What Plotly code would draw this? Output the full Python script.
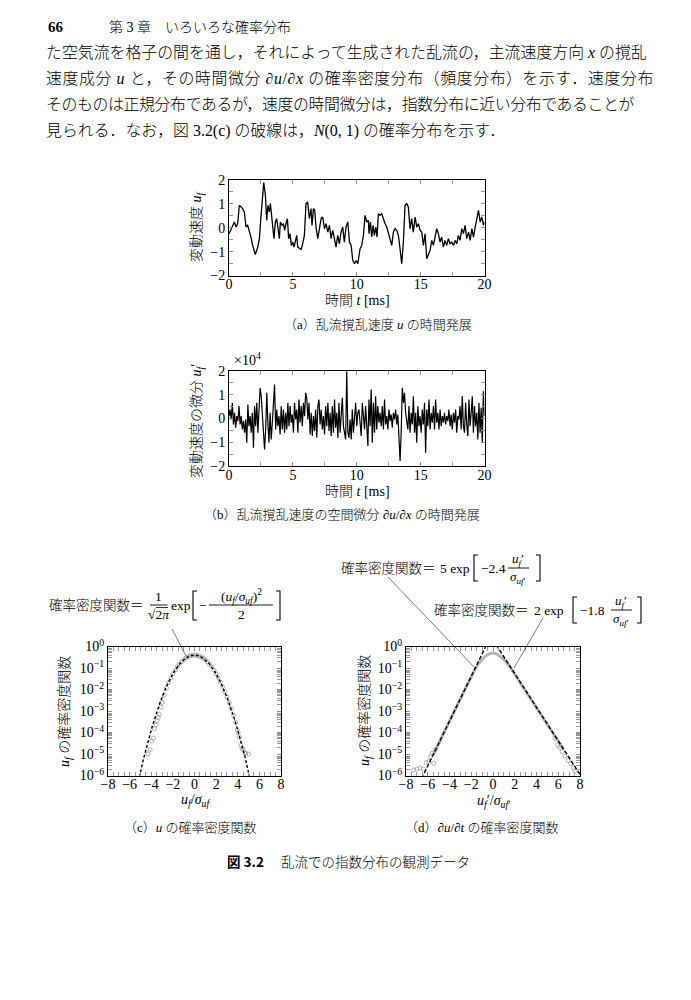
import numpy as np
import plotly.graph_objects as go

W, H = 691, 1000
OFF = 8  # page is shown with the browser's default 8px body margin
SERIF = "Liberation Serif"
MIX = "Liberation Serif, Noto Sans CJK JP"
JP = "Noto Sans CJK JP"

# ---------------- data ----------------
# (a) velocity fluctuation u_f vs time t [ms]
t_a = [0.00, 0.29, 0.42, 0.55, 0.68, 0.81, 1.07, 1.20, 1.33, 1.46, 1.59, 1.72, 1.85, 2.06, 2.25, 2.38,
       2.51, 2.64, 2.72, 2.85, 2.95, 3.05, 3.16, 3.24, 3.34, 3.45, 3.52, 3.63, 3.73, 3.84, 3.94, 4.02,
       4.15, 4.26, 4.36, 4.46, 4.57, 4.67, 4.78, 4.88, 4.99, 5.09, 5.20, 5.30, 5.38, 5.51, 5.64, 5.77,
       5.90, 6.03, 6.16, 6.29, 6.42, 6.50, 6.61, 6.71, 6.81, 6.95, 7.08, 7.21, 7.34, 7.47, 7.60, 7.73,
       7.86, 7.99, 8.12, 8.25, 8.38, 8.51, 8.64, 8.77, 8.90, 9.03, 9.16, 9.30, 9.43, 9.56, 9.69, 9.82,
       9.95, 10.08, 10.26, 10.39, 10.52, 10.65, 10.78, 10.91, 10.96, 11.07, 11.17, 11.28, 11.38, 11.49,
       11.59, 11.69, 11.82, 11.95, 12.09, 12.22, 12.35, 12.48, 12.61, 12.74, 12.87, 13.00, 13.13, 13.26,
       13.39, 13.52, 13.65, 13.78, 13.91, 14.04, 14.17, 14.30, 14.43, 14.57, 14.70, 14.83, 14.96, 15.09,
       15.22, 15.35, 15.48, 15.61, 15.74, 15.87, 16.00, 16.13, 16.26, 16.39, 16.52, 16.65, 16.78, 16.91,
       17.04, 17.17, 17.30, 17.43, 17.57, 17.70, 17.83, 17.96, 18.09, 18.22, 18.35, 18.48, 18.61, 18.75,
       18.88, 19.01, 19.14, 19.27, 19.40, 19.53, 19.66, 19.79, 19.92, 20.00]
u_a = [-0.25, 0.10, 0.24, 0.03, 0.17, 0.94, 0.80, 0.66, 0.03, 0.10, -0.11, -0.39, -0.74, -1.12, -0.81, -0.46,
       0.52, 1.64, 1.89, 1.36, 0.31, 0.94, 0.66, 1.01, 0.45, 0.10, -0.46, 0.24, 0.38, -0.04, -0.46, 0.24,
       0.10, 0.17, -0.11, 0.17, 0.38, -0.46, -0.25, -0.74, -0.60, -0.81, -0.60, -0.32, -0.81, -0.88, -0.91, -0.67,
       -0.32, 1.01, 1.08, 0.38, 0.80, 0.10, 0.80, 0.73, 0.03, -0.46, -0.11, 0.38, 0.45, -0.04, 0.17, -0.18,
       0.10, -0.46, -0.11, -0.53, -0.81, -0.32, -0.67, -0.18, 0.03, -0.60, 0.03, 0.24, -0.60, -0.74, -1.37, -1.51,
       -1.37, -1.51, -0.88, -0.74, -0.32, 0.52, 0.24, 0.31, -0.25, 0.24, -0.39, 0.10, -0.32, 0.03,
       -0.39, 0.59, 0.52, 0.59, 0.31, 0.17, 0.03, -0.25, -0.53, -0.74, -0.18, -0.04, -0.11, -0.32,
       -0.88, -1.51, -0.60, 0.94, 1.01, 0.87, -0.04, 0.38, -0.18, 0.45, 0.03, 0.17, -0.11, -0.18,
       -0.74, -0.25, -1.30, -1.09, -0.95, -0.53, -0.74, -0.39, -0.04, -0.25, -0.60, -0.39, -0.81, -0.53,
       -0.74, -0.46, -0.67, -0.60, -0.74, -0.53, -0.67, -0.32, -0.53, -0.04, -0.25, 0.10, -0.46, -0.18,
       -0.53, -0.04, -0.39, 0.03, 0.38, 0.73, 0.24, 0.45, 0.10, 0.24]

# (b) derivative of velocity fluctuation (x10^4), sampled uniformly over 0-20 ms
t_b_start, t_b_end = 0.0, 20.0
du_b = [0.10, 0.38, -0.04, 0.66, -0.25, 0.24, -0.39, 0.10, -0.11, 0.52,
        -0.25, 0.10, -0.46, -0.11, -0.60, -0.04, -1.02, 0.59, -0.32, 0.10,
        -0.60, 0.24, -1.23, 0.52, -0.32, 0.66, -0.60, 0.80, 1.29, 0.94,
        0.10, -0.74, -1.30, -0.46, 1.08, -0.18, -1.02, 0.24, -0.88, -0.18,
        0.66, 1.43, -0.46, 0.38, -0.32, 0.10, -0.67, 0.52, -0.46, 0.38,
        -0.60, 0.24, -0.46, 0.66, -0.32, 0.52, -0.18, 0.17, -0.60, 0.66,
        -0.04, 0.38, -0.60, 0.80, -0.18, 0.52, -0.32, 0.66, 0.10, 1.08,
        0.87, -0.04, 0.66, -0.67, 0.24, -0.74, 0.10, -0.53, 0.38, -0.81,
        0.52, 0.80, -0.25, 0.38, -0.46, 0.10, -0.67, 0.52, -0.32, 0.66,
        -0.53, 0.24, -0.74, 0.52, -0.60, 0.80, -0.39, 0.24, -0.81, 0.66,
        -0.60, 0.38, 0.87, -0.32, -0.74, -0.88, 1.99, -0.60, -0.81, -0.04, -0.88,
        0.38, -0.60, 0.10, 0.66, -0.32, 0.24,
        0.38, -0.18, -0.74, 0.66, -0.04, -0.46, 0.52, -0.60, -1.16, 0.80,
        -0.32, 1.22, -1.02, 0.66, -0.60, 0.94, -0.46, 0.52, -0.18, 0.24,
        -0.32, 0.52, -0.46, 0.80, -0.25, 0.10, -0.46, 0.38, -0.11, 0.17,
        -0.39, 0.24, -0.04, 0.38, -0.25, 0.17, -0.81, -1.79, -0.60, 1.29,
        0.66, 1.08, 0.24, -0.18, -0.46, 0.52, -0.60, 0.24, -0.25, 0.94,
        -0.60, 0.24, -1.02, 0.52, -0.32, 0.10, -0.60, 0.38, -0.25, 0.66,
        -1.44, 0.38, -0.32, 0.80, -0.46, 0.24, -0.18, 0.52, -0.46, 0.80,
        -0.18, 0.24, -0.46, 0.38, -0.32, 0.10, -0.18, 0.24, -0.25, 0.10,
        -0.11, 0.38, -0.32, 0.17, -0.46, 0.24, -0.18, 0.38, -0.60, 0.10,
        -0.04, 0.52, -0.46, 0.94, -0.32, -0.60, 0.66, -0.25, -0.74, 0.80,
        -0.32, 0.24, 0.94, -0.60, 0.52, -0.32, 0.24, -0.88, 0.66, -0.60,
        0.45, -1.02, 1.15, 0.10]
t_b = np.linspace(t_b_start, t_b_end, len(du_b))

# (c) measured pdf of u_f / sigma (gray circles)
x_c = [-4.3, -4.1, -3.95, -3.8, -3.7, -3.55, -3.45, -3.35, -3.25, -3.1, -3.0, -2.8, -2.6, -2.4, -2.2,
       -2.0, -1.8, -1.6, -1.4, -1.2, -1.0, -0.8, -0.6, -0.4, -0.2, 0.0, 0.2, 0.4, 0.6, 0.8, 1.0, 1.2,
       1.4, 1.6, 1.8, 2.0, 2.2, 2.4, 2.6, 2.8, 3.0, 3.2, 3.4, 3.6, 3.8, 3.95, 4.05, 4.15, 4.3, 4.4,
       4.5, 4.65, 4.75, 5.0]
p_c = [1.0e-5, 1.6e-5, 4.0e-5, 5.5e-5, 1.5e-4, 2.2e-4, 3.5e-4, 5.0e-4, 7.0e-4, 1.5e-3, 2.5e-3, 5.5e-3,
       0.0115, 0.021, 0.034, 0.053, 0.078, 0.110, 0.150, 0.194, 0.242, 0.290, 0.333, 0.368, 0.391, 0.399,
       0.391, 0.368, 0.333, 0.290, 0.242, 0.194, 0.150, 0.111, 0.079, 0.054, 0.0355, 0.0224, 0.0136,
       0.0079, 0.0044, 0.0024, 0.0013, 0.00065, 0.00030, 1.3e-4, 1.0e-4, 6.0e-5, 2.5e-5, 1.8e-5, 1.6e-5,
       1.1e-5, 1.1e-5, 1.0e-5]
# Gaussian reference N(0,1)
gauss_mu, gauss_sigma = 0.0, 1.0

# (d) measured pdf of u_f' / sigma (gray band + tail circles)
x_d = [-5.5, -5.0, -4.5, -4.0, -3.5, -3.0, -2.5, -2.0, -1.75, -1.5, -1.25, -1.0, -0.75, -0.5, -0.25,
       0.0, 0.25, 0.5, 0.75, 1.0, 1.25, 1.5, 2.0, 2.5, 3.0, 3.5, 4.0, 4.5, 5.0, 5.5, 6.0, 6.5]
p_d = [9.0e-6, 3.0e-5, 1.0e-4, 3.4e-4, 1.1e-3, 3.7e-3, 0.012, 0.039, 0.070, 0.115, 0.18, 0.25, 0.33,
       0.41, 0.47, 0.50, 0.47, 0.40, 0.32, 0.25, 0.18, 0.125, 0.052, 0.021, 0.0085, 0.0034, 0.0014,
       5.7e-4, 2.3e-4, 9.5e-5, 4.0e-5, 1.6e-5]
x_d_tail = [-7.3, -7.0, -6.7, -6.4, -6.15, -5.9, -5.75, -5.6, -5.45, -5.3,
            5.7, 5.95, 6.15, 6.35, 6.6, 6.9, 7.15, 7.4, 7.55]
p_d_tail = [1.8e-6, 2.0e-6, 2.2e-6, 2.0e-6, 4.0e-6, 4.5e-6, 7.5e-6, 1.1e-5, 3.7e-6, 1.6e-5,
            5.5e-5, 2.5e-5, 2.0e-5, 1.3e-5, 8e-6, 5e-6, 3.5e-6, 2.3e-6, 1.6e-6]
# exponential fits: A * exp(-k |x|)
fit_left_A, fit_left_k = 5.0, 2.4
fit_right_A, fit_right_k = 2.0, 1.8

# tick labels
t_ticks = [0, 5, 10, 15, 20]
t_ticktext = ["0", "5", "10", "15", "20"]
v_ticks = [-2, -1, 0, 1, 2]
v_ticktext = ["−2", "−1", "0", "1", "2"]
s_ticks = [-8, -6, -4, -2, 0, 2, 4, 6, 8]
s_ticktext = ["−8", "−6", "−4", "−2", "0", "2", "4", "6", "8"]
p_ticks = [1, 1e-1, 1e-2, 1e-3, 1e-4, 1e-5, 1e-6]
p_ticktext = ["10<sup>0</sup>", "10<sup>−1</sup>", "10<sup>−2</sup>", "10<sup>−3</sup>",
              "10<sup>−4</sup>", "10<sup>−5</sup>", "10<sup>−6</sup>"]
log_minor = [k * 10.0 ** e for e in range(-6, 0) for k in range(2, 10)]

# ---------------- model curves ----------------
xg = np.linspace(-5.6, 5.6, 500)
pg = np.exp(-((xg - gauss_mu) / gauss_sigma) ** 2 / 2) / np.sqrt(2 * np.pi)
xl = np.linspace(-8, 0, 300)
pl = fit_left_A * np.exp(-fit_left_k * np.abs(xl))
xr = np.linspace(0, 8, 300)
pr = fit_right_A * np.exp(-fit_right_k * np.abs(xr))

fig = go.Figure()
fig.add_trace(go.Scatter(x=t_a, y=u_a, mode="lines", line=dict(color="black", width=1.3),
                         xaxis="x", yaxis="y"))
fig.add_trace(go.Scatter(x=t_b, y=du_b, mode="lines", line=dict(color="black", width=1.2),
                         xaxis="x2", yaxis="y2"))
fig.add_trace(go.Scatter(x=x_c, y=p_c, mode="markers",
                         marker=dict(symbol="circle-open", size=4, color="#9a9a9a", line=dict(width=0.8)),
                         xaxis="x3", yaxis="y3"))
fig.add_trace(go.Scatter(x=xg, y=pg, mode="lines", line=dict(color="black", width=1.4, dash="3px,2px"),
                         xaxis="x3", yaxis="y3"))
fig.add_trace(go.Scatter(x=x_d, y=p_d, mode="lines", line=dict(color="#b4b4b4", width=3.0, shape="spline"),
                         xaxis="x4", yaxis="y4"))
fig.add_trace(go.Scatter(x=x_d_tail, y=p_d_tail, mode="markers",
                         marker=dict(symbol="circle-open", size=4, color="#9a9a9a", line=dict(width=0.8)),
                         xaxis="x4", yaxis="y4"))
fig.add_trace(go.Scatter(x=xl, y=pl, mode="lines", line=dict(color="black", width=1.4, dash="4px,2px"),
                         xaxis="x4", yaxis="y4"))
fig.add_trace(go.Scatter(x=xr, y=pr, mode="lines", line=dict(color="black", width=1.4, dash="4px,2px"),
                         xaxis="x4", yaxis="y4"))


def ax(**kw):
    d = dict(showline=True, linecolor="black", linewidth=1, mirror="allticks",
             ticks="inside", ticklen=4, tickwidth=1, tickcolor="#8c8c8c",
             showgrid=False, zeroline=False, fixedrange=True, automargin=False,
             tickfont=dict(family=SERIF, size=14, color="black"))
    d.update(kw)
    return d


def minor(**kw):
    d = dict(ticks="inside", ticklen=4, tickwidth=1, tickcolor="#9a9a9a", showgrid=False)
    d.update(kw)
    return d


def fx(x):
    return (x - OFF) / W


def fy(y):
    return 1 - (y - OFF) / H


def dom_x(a, b):
    return [fx(a), fx(b)]


def dom_y(top, bottom):
    return [fy(bottom), fy(top)]


fig.update_layout(
    width=W, height=H, margin=dict(l=0, r=0, t=0, b=0, pad=0, autoexpand=False), autosize=False,
    paper_bgcolor="white", plot_bgcolor="white", showlegend=False, hovermode=False,
    xaxis=ax(domain=dom_x(229, 484.5), anchor="y", range=[0, 20], tickmode="array",
             tickvals=t_ticks, ticktext=t_ticktext, minor=minor(dtick=2.5, tick0=0)),
    yaxis=ax(domain=dom_y(180, 275.5), anchor="x", range=[-2, 2], tickmode="array",
             tickvals=v_ticks, ticktext=v_ticktext, minor=minor(dtick=0.5, tick0=0)),
    xaxis2=ax(domain=dom_x(229, 484.5), anchor="y2", range=[0, 20], tickmode="array",
              tickvals=t_ticks, ticktext=t_ticktext, minor=minor(dtick=2.5, tick0=0)),
    yaxis2=ax(domain=dom_y(371, 466), anchor="x2", range=[-2, 2], tickmode="array",
              tickvals=v_ticks, ticktext=v_ticktext, minor=minor(dtick=0.5, tick0=0)),
    xaxis3=ax(domain=dom_x(108, 281), anchor="y3", range=[-8, 8], tickmode="array",
              tickvals=s_ticks, ticktext=s_ticktext, minor=minor(dtick=0.5, tick0=0)),
    yaxis3=ax(domain=dom_y(646.5, 775.5), anchor="x3", type="log", range=[-6, 0], tickmode="array",
              tickvals=p_ticks, ticktext=p_ticktext, minor=minor(tickmode="array", tickvals=log_minor)),
    xaxis4=ax(domain=dom_x(406, 580), anchor="y4", range=[-8, 8], tickmode="array",
              tickvals=s_ticks, ticktext=s_ticktext, minor=minor(dtick=0.5, tick0=0)),
    yaxis4=ax(domain=dom_y(646.5, 775.5), anchor="x4", type="log", range=[-6, 0], tickmode="array",
              tickvals=p_ticks, ticktext=p_ticktext, minor=minor(tickmode="array", tickvals=log_minor)),
)
try:
    fig.update_xaxes(ticklabelstandoff=-4)
except Exception:
    pass

ann = []
shapes = []


def A(x, y, text, size=14, family=MIX, xanchor="center", yanchor="middle", angle=0, weight=None):
    font = dict(family=family, size=size, color="black")
    if weight is not None:
        font["weight"] = weight
    ann.append(dict(x=fx(x), y=fy(y), xref="paper", yref="paper", text=text, showarrow=False,
                    font=font, xanchor=xanchor, yanchor=yanchor, textangle=angle))


def L(x0, y0, x1, y1, color="black", width=1.0):
    shapes.append(dict(type="line", xref="paper", yref="paper", x0=fx(x0), y0=fy(y0),
                       x1=fx(x1), y1=fy(y1), line=dict(color=color, width=width)))


def bracket(x, top, bottom, side="left", w=4):
    dx = w if side == "left" else -w
    pts = [(x + dx, top), (x, top), (x, bottom), (x + dx, bottom)]
    path = "M " + " L ".join(f"{fx(px):.5f},{fy(py):.5f}" for px, py in pts)
    shapes.append(dict(type="path", xref="paper", yref="paper", path=path,
                       line=dict(color="black", width=1.1)))


def M(s):
    """Latin/math fragment kept at regular weight inside light Japanese text."""
    return f"<span style='font-weight:400'>{s}</span>"


LW = 300  # light weight for Japanese text (closer to the thin Mincho strokes)

# ---- page header & paragraph ----
A(46, 27, "<b>66</b>", size=15, family=SERIF, xanchor="left")
A(107, 27, "第 " + M("3") + " 章　いろいろな確率分布", size=14, family=MIX, xanchor="left", weight=LW)
PF = 15.9
A(44, 52, "た空気流を格子の間を通し，それによって生成された乱流の，主流速度方向 " + M("<i>x</i>") + " の撹乱",
  size=PF, xanchor="left", weight=LW)
A(44, 78.5, "<span style='letter-spacing:0.6px'>速度成分 " + M("<i>u</i>") + " と，その時間微分 "
  + M("<i>∂u</i>/<i>∂x</i>") + " の確率密度分布（頻度分布）を示す．速度分布</span>",
  size=PF, xanchor="left", weight=LW)
A(44, 105, "<span style='letter-spacing:-0.38px'>そのものは正規分布であるが，速度の時間微分は，指数分布に近い分布であることが</span>",
  size=PF, xanchor="left", weight=LW)
A(44, 131, "見られる．なお，図 " + M("3.2(c)") + " の破線は，" + M("<i>N</i>(0, 1)") + " の確率分布を示す．",
  size=PF, xanchor="left", weight=LW)

# ---- (a) labels ----
A(198, 227, "変動速度 " + M("<i>u<sub>f</sub></i>"), size=14, angle=-90, weight=LW)
A(357, 300, "時間 " + M("<i>t</i> [ms]"), size=14, weight=LW)
A(282, 324, "（" + M("a") + "）乱流撹乱速度 " + M("<i>u</i>") + " の時間発展", size=13, xanchor="left", weight=LW)

# ---- (b) labels ----
A(197, 421, "変動速度の微分 " + M("<i>u<sub>f</sub></i>′"), size=14, angle=-90, weight=LW)
A(232, 359, "×10<sup>4</sup>", size=14, family=SERIF, xanchor="left")
A(357, 491, "時間 " + M("<i>t</i> [ms]"), size=14, weight=LW)
A(202, 514, "（" + M("b") + "）乱流撹乱速度の空間微分 " + M("<i>∂u</i>/<i>∂x</i>") + " の時間発展",
  size=13, xanchor="left", weight=LW)

# ---- (c) labels ----
A(65, 712, M("<i>u<sub>f</sub></i>") + " の確率密度関数", size=14, angle=-90, weight=LW)
A(195, 800, "<i>u<sub>f</sub></i>/<i>σ</i><sub><i>u</i></sub><sub><i>f</i></sub>", size=14, family=SERIF)
A(122, 827, "（" + M("c") + "）" + M("<i>u</i>") + " の確率密度関数", size=13, xanchor="left", weight=LW)

# ---- (d) labels ----
A(365, 710, M("<i>u<sub>f</sub></i>") + " の確率密度関数", size=14, angle=-90, weight=LW)
A(493, 801, "<i>u<sub>f</sub></i>′/<i>σ</i><sub><i>u</i></sub><sub><i>f</i>′</sub>", size=14, family=SERIF)
A(403, 827, "（" + M("d") + "）" + M("<i>∂u</i>/<i>∂t</i>") + " の確率密度関数", size=13, xanchor="left", weight=LW)

# ---- figure caption ----
A(225, 861, "<b>図 3.2</b>", size=13.5, family=JP, xanchor="left")
A(279, 861, "乱流での指数分布の観測データ", size=13.5, family=JP, xanchor="left", weight=LW)

# ---- formula (c) ----
A(146, 605, "確率密度関数＝", size=13.5, xanchor="right", weight=LW)
A(158.5, 596, "1", size=13.5, family=SERIF)
L(150, 605, 167.5, 605, width=0.9)
A(159, 614.5, "√2<i>π</i>", size=13.5, family=SERIF)
L(156, 607.5, 168, 607.5, width=0.8)
A(181, 605, "exp", size=13.5, family=SERIF)
bracket(193, 591, 620, "left")
A(203, 605, "−", size=13.5, family=SERIF)
A(241, 596, "(<i>u<sub>f</sub></i>/<i>σ</i><sub><i>u</i></sub><sub><i>f</i></sub>)<sup>2</sup>", size=13.5, family=SERIF)
L(209, 605, 273, 605, width=0.9)
A(241, 614.5, "2", size=13.5, family=SERIF)
bracket(280, 591, 620, "right")
L(172, 629, 186, 656, color="#444", width=0.7)

# ---- formula (d) left ----
A(438, 568, "確率密度関数＝", size=13.5, xanchor="right", weight=LW)
A(455, 568, "5 exp", size=13.5, family=SERIF)
bracket(474, 555, 581, "left")
A(493, 568, "−2.4", size=13.5, family=SERIF)
A(518, 559, "<i>u<sub>f</sub></i>′", size=13, family=SERIF)
L(508, 568, 529, 568, width=0.9)
A(518, 577.5, "<i>σ</i><sub><i>u</i></sub><sub><i>f</i>′</sub>", size=13, family=SERIF)
bracket(540, 555, 581, "right")
L(388, 577, 475, 668, color="#444", width=0.7)

# ---- formula (d) right ----
A(531, 610, "確率密度関数＝", size=13.5, xanchor="right", weight=LW)
A(549, 610, "2 exp", size=13.5, family=SERIF)
bracket(573, 597, 623, "left")
A(592, 610, "−1.8", size=13.5, family=SERIF)
A(621, 601, "<i>u<sub>f</sub></i>′", size=13, family=SERIF)
L(611, 610, 632, 610, width=0.9)
A(621, 619.5, "<i>σ</i><sub><i>u</i></sub><sub><i>f</i>′</sub>", size=13, family=SERIF)
bracket(641, 597, 623, "right")
L(543, 618, 514, 668, color="#444", width=0.7)

fig.update_layout(annotations=ann, shapes=shapes)
fig.write_html("out.html", config={"displayModeBar": False})
